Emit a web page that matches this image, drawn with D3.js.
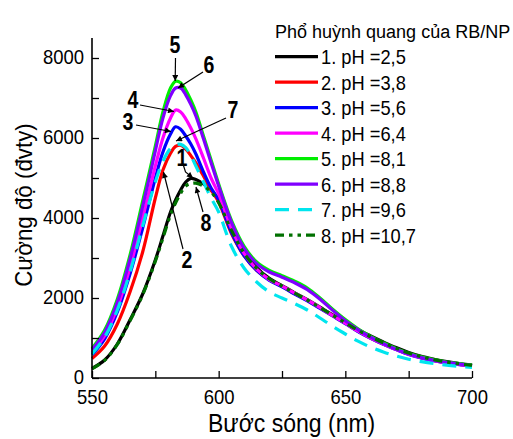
<!DOCTYPE html>
<html>
<head>
<meta charset="utf-8">
<script src="https://cdn.jsdelivr.net/npm/d3@7"></script>
<style>
  html, body { margin: 0; padding: 0; background: #fff; }
  svg { display: block; }
  text { font-family: "Liberation Sans", Arial, sans-serif; }
</style>
</head>
<body>
<svg id="chart" width="513" height="439"></svg>
<script>
// ---------------- DATA ----------------
const wavelength = [550,555,560,565,570,575,578,581,583,585,587,589,591,594,597,600,605,610,615,620,625,630,635,640,645,650,655,660,665,670,675,680,685,690,695,700];

const seriesNames = ["1. pH =2,5","2. pH =3,8","3. pH =5,6","4. pH =6,4","5. pH =8,1","6. pH =8,8","7. pH =9,6","8. pH =10,7"];
const seriesColors = ["#000000","#ff0000","#0000ff","#ff00ff","#00ee00","#8000ff","#00e5ee","#007000"];
const seriesDash = ["","","","","","","14,9","9,5,3.5,5,3.5,5"];

const ph25  = [240,450,850,1450,2100,2950,3550,4150,4450,4700,4900,4990,4960,4850,4700,4450,3850,3200,2760,2490,2310,2130,1960,1770,1580,1400,1210,1050,900,760,640,540,470,410,360,320];
const ph38  = [490,800,1350,2150,3150,4500,5200,5620,5790,5820,5720,5560,5380,5050,4700,4400,3620,3060,2690,2460,2290,2110,1940,1750,1560,1370,1170,1000,850,720,600,510,440,380,340,300];
const ph56  = [580,980,1650,2600,3750,5000,5650,6100,6280,6220,6050,5850,5600,5150,4750,4450,3650,3060,2690,2440,2280,2100,1930,1740,1550,1360,1160,990,840,710,590,500,430,375,335,295];
const ph64  = [640,1060,1760,2760,4000,5300,6000,6500,6700,6650,6480,6250,5980,5500,5000,4600,3750,3120,2720,2460,2300,2120,1950,1760,1560,1370,1170,1000,850,715,595,505,435,378,338,298];
const ph81  = [740,1200,1970,3070,4420,5800,6650,7250,7420,7380,7200,6950,6650,6050,5450,4850,3950,3300,2900,2690,2560,2420,2250,2000,1720,1460,1230,1040,880,740,620,530,460,400,360,320];
const ph88  = [700,1140,1890,2970,4290,5680,6500,7060,7250,7250,7080,6840,6550,5980,5380,4800,3900,3250,2860,2650,2520,2380,2210,1970,1690,1430,1210,1020,860,720,600,510,440,390,345,310];
const ph96  = [600,1020,1700,2650,3800,4900,5420,5740,5830,5840,5760,5560,5300,4900,4500,4150,3300,2750,2400,2150,2000,1860,1700,1500,1290,1100,920,770,650,550,470,410,360,320,290,265];
const ph107 = [230,440,840,1430,2080,2920,3500,4080,4380,4620,4800,4860,4870,4800,4650,4380,3700,3120,2740,2480,2300,2120,1950,1760,1570,1380,1190,1030,880,745,625,530,460,400,355,315];

const seriesValues = [ph25, ph38, ph56, ph64, ph81, ph88, ph96, ph107];

const xTickValues = [550,575,600,625,650,675,700];
const xTickLabels = ["550","","600","","650","","700"];
const yTickValues = [0,1000,2000,3000,4000,5000,6000,7000,8000];
const yTickLabels = ["0","","2000","","4000","","6000","","8000"];

const xTitle = "Bước sóng (nm)";
const yTitle = "Cường độ (đvty)";
const legendTitle = "Phổ huỳnh quang của RB/NP";

// ---------------- CHART ----------------
const svg = d3.select("#chart");
const x = d3.scaleLinear().domain([550, 700]).range([92, 472]);
const y = d3.scaleLinear().domain([0, 8500]).range([378, 38]);

// horizontally condense a text selection by a factor (fonts are narrower in the reference)
function condense(sel, factor) {
  sel.each(function() {
    const L = this.getComputedTextLength();
    if (L > 0) {
      d3.select(this).attr("textLength", L * factor).attr("lengthAdjust", "spacingAndGlyphs");
    }
  });
}

const defs = svg.append("defs");
defs.append("marker")
  .attr("id", "arrow")
  .attr("viewBox", "0 0 10 10")
  .attr("refX", 10).attr("refY", 5)
  .attr("markerWidth", 7).attr("markerHeight", 6)
  .attr("markerUnits", "userSpaceOnUse")
  .attr("orient", "auto")
  .append("path").attr("d", "M0,0 L10,5 L0,10 Z").attr("fill", "#000");

// lines
const line = d3.line()
  .x((d, i) => x(wavelength[i]))
  .y(d => y(d))
  .curve(d3.curveCatmullRom.alpha(0.5));

const g = svg.append("g");
seriesValues.forEach((vals, i) => {
  g.append("path")
    .datum(vals)
    .attr("d", line)
    .attr("fill", "none")
    .attr("stroke", seriesColors[i])
    .attr("stroke-width", 3.2)
    .attr("stroke-linejoin", "round")
    .attr("stroke-dasharray", seriesDash[i] || null);
});

// axes
const xAxis = d3.axisBottom(x)
  .tickValues(xTickValues)
  .tickFormat((d, i) => xTickLabels[i])
  .tickSizeInner(-7).tickSizeOuter(0).tickPadding(11);
const yAxis = d3.axisLeft(y)
  .tickValues(yTickValues)
  .tickFormat((d, i) => yTickLabels[i])
  .tickSizeInner(-7).tickSizeOuter(0).tickPadding(8);

const gx = svg.append("g").attr("transform", `translate(0,${y(0)})`).call(xAxis);
const gy = svg.append("g").attr("transform", `translate(${x(550)},0)`).call(yAxis);
[gx, gy].forEach(a => {
  a.select(".domain").attr("stroke", "#000").attr("stroke-width", 1.6);
  a.selectAll(".tick line").attr("stroke", "#000").attr("stroke-width", 1.3);
  a.selectAll(".tick text").attr("fill", "#000").attr("font-size", 21)
    .attr("font-family", "Liberation Sans, Arial, sans-serif");
  condense(a.selectAll(".tick text"), 0.88);
});
gy.selectAll(".tick text").attr("dy", "0.28em");
gy.select(".domain").attr("d", `M0,${y(0)}V${y(8500)}`);
gx.select(".domain").attr("d", `M${x(550)},0H${x(700)}`);

// titles
const xt = svg.append("text")
  .attr("x", 208).attr("y", 432)
  .attr("font-size", 25)
  .attr("fill", "#000")
  .text(xTitle);
condense(xt, 0.92);
const yt = svg.append("text")
  .attr("transform", "translate(32,205) rotate(-90)")
  .attr("text-anchor", "middle")
  .attr("font-size", 24)
  .attr("fill", "#000")
  .text(yTitle);
condense(yt, 0.93);

// legend
const lg = svg.append("g");
lg.append("text")
  .attr("x", 275).attr("y", 38)
  .attr("font-size", 18)
  .attr("fill", "#000")
  .text(legendTitle);
seriesNames.forEach((name, i) => {
  const cy = 56.7 + 25.5 * i;
  lg.append("line")
    .attr("x1", 275).attr("x2", 318)
    .attr("y1", cy).attr("y2", cy)
    .attr("stroke", seriesColors[i])
    .attr("stroke-width", 3.2)
    .attr("stroke-dasharray", seriesDash[i] || null);
  const tx = lg.append("text")
    .attr("x", 321).attr("y", cy + 7.5)
    .attr("font-size", 21)
    .attr("fill", "#000")
    .text(name);
  condense(tx, 0.87);
});

// annotations: label position + arrow path (pixel-space callouts)
const annots = [
  {t: "5", lx: 175, ly: 45, pts: [[175.5, 58], [175.2, 81]]},
  {t: "6", lx: 209, ly: 65, pts: [[203, 72], [178, 88]]},
  {t: "4", lx: 133, ly: 100, pts: [[140, 105], [174, 111.5]]},
  {t: "3", lx: 128, ly: 122, pts: [[136, 125], [171, 131.5]]},
  {t: "7", lx: 233, ly: 110, pts: [[226, 118], [176, 141]]},
  {t: "1", lx: 182, ly: 158, pts: [[183, 164], [185.5, 172], [193, 178]]},
  {t: "8", lx: 206, ly: 223, pts: [[203, 212], [196, 187]]},
  {t: "2", lx: 187, ly: 260, pts: [[183, 249], [163.5, 172]]}
];
const ag = svg.append("g");
annots.forEach(a => {
  ag.append("path")
    .attr("d", d3.line()(a.pts))
    .attr("fill", "none")
    .attr("stroke", "#000")
    .attr("stroke-width", 1.2)
    .attr("marker-end", "url(#arrow)");
  const at = ag.append("text")
    .attr("x", a.lx).attr("y", a.ly)
    .attr("dy", "0.36em")
    .attr("text-anchor", "middle")
    .attr("font-weight", "bold")
    .attr("font-size", 23)
    .attr("fill", "#000")
    .text(a.t);
  condense(at, 0.85);
});
</script>
</body>
</html>
